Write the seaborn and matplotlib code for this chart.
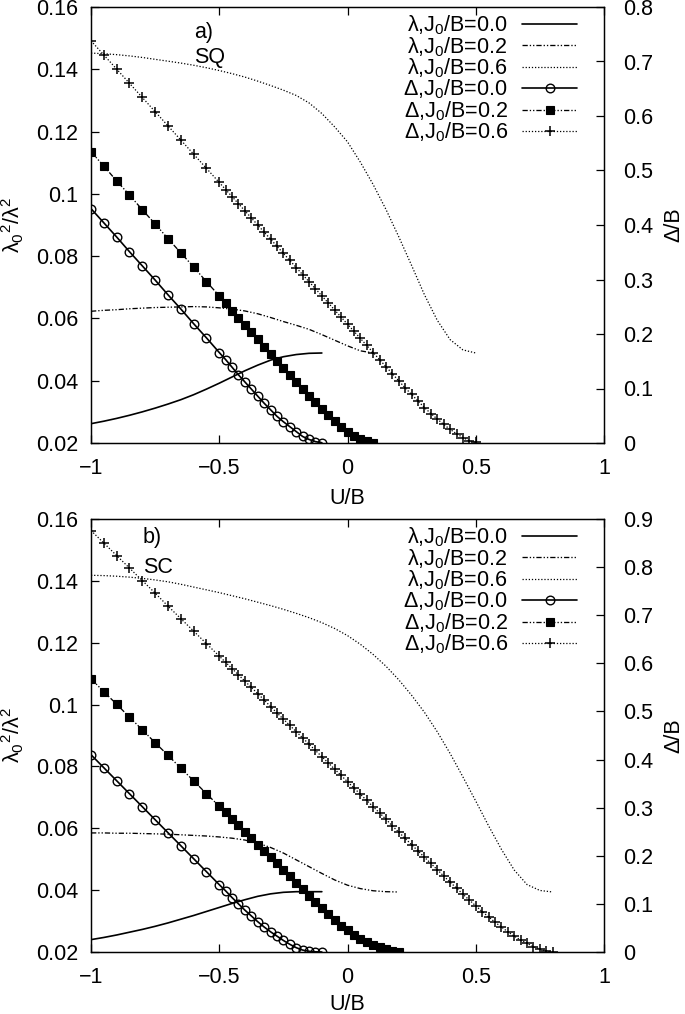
import matplotlib
matplotlib.use("Agg")
import matplotlib.pyplot as plt
import seaborn as sns

# ---------------- data ----------------
# coarse part of the U grid shared by all gap curves
U_C = [-1.0, -0.95, -0.9, -0.85, -0.8, -0.75, -0.7, -0.65, -0.6, -0.55, -0.5]
# fine part of the U grid (gap curves), sliced to each curve's end
U_F = [-0.475, -0.45, -0.425, -0.4, -0.375, -0.35, -0.325, -0.3, -0.275, -0.25,
       -0.225, -0.2, -0.175, -0.15, -0.125, -0.1, -0.075, -0.05, -0.025, 0.0,
       0.025, 0.05, 0.075, 0.1, 0.125, 0.15, 0.175, 0.2, 0.225, 0.25,
       0.275, 0.3, 0.325, 0.35, 0.375, 0.4, 0.425, 0.45, 0.475, 0.5,
       0.525, 0.55, 0.575, 0.6, 0.625, 0.65, 0.675, 0.7, 0.725, 0.75,
       0.775, 0.8]
# U grid for the penetration-depth curves
U_L = [-1.0, -0.95, -0.9, -0.85, -0.8, -0.75, -0.7, -0.65, -0.6, -0.55,
       -0.5, -0.45, -0.4, -0.35, -0.3, -0.25, -0.2, -0.15, -0.1, -0.05,
       0.0, 0.05, 0.1, 0.15, 0.2, 0.25, 0.3, 0.35, 0.4, 0.45,
       0.5, 0.55, 0.6, 0.65, 0.7, 0.75, 0.8]

# ---- panel a) SQ ----
SQ_LAM_00 = [0.0262, 0.0270, 0.0279, 0.0289, 0.0300, 0.0312, 0.0325, 0.0339, 0.0355, 0.0373,
             0.0392, 0.0412, 0.0432, 0.0450, 0.0466, 0.0477, 0.0484, 0.0488, 0.0489]
SQ_LAM_02 = [0.0623, 0.0626, 0.0628, 0.0631, 0.0633, 0.0635, 0.0636, 0.0637, 0.0638, 0.0637,
             0.0634, 0.0630, 0.0624, 0.0615, 0.0603, 0.0590, 0.0578, 0.0565, 0.0548, 0.0530,
             0.0512, 0.0496, 0.0489]
SQ_LAM_06 = [0.1452, 0.1450, 0.1447, 0.1443, 0.1438, 0.1432, 0.1426, 0.1420, 0.1413, 0.1405,
             0.1396, 0.1386, 0.1375, 0.1362, 0.1348, 0.1333, 0.1316, 0.1292, 0.1258, 0.1215,
             0.1167, 0.1102, 0.1030, 0.0950, 0.0862, 0.0770, 0.0676, 0.0594, 0.0532, 0.0499,
             0.0489]
SQ_DEL_00 = [0.430, 0.404, 0.378, 0.351, 0.325, 0.299, 0.272, 0.246, 0.219, 0.193, 0.166,
             0.153, 0.139, 0.125, 0.112, 0.099, 0.086, 0.073, 0.061, 0.049, 0.039,
             0.030, 0.021, 0.012, 0.0065, 0.0025, 0.0005]
SQ_DEL_02 = [0.5345, 0.508, 0.481, 0.455, 0.428, 0.402, 0.375, 0.349, 0.323, 0.296, 0.270,
             0.257, 0.243, 0.230, 0.217, 0.204, 0.190, 0.177, 0.164, 0.151, 0.138,
             0.125, 0.112, 0.099, 0.087, 0.075, 0.063, 0.051, 0.040, 0.030, 0.021,
             0.0135, 0.0075, 0.003, 0.0005]
SQ_DEL_06 = [0.738, 0.712, 0.686, 0.660, 0.634, 0.608, 0.582, 0.556, 0.530, 0.504, 0.478,
             0.465, 0.452, 0.439, 0.426, 0.413, 0.400, 0.387, 0.374, 0.361, 0.348,
             0.335, 0.322, 0.309, 0.296, 0.283, 0.270, 0.257, 0.244, 0.231, 0.218,
             0.205, 0.192, 0.179, 0.166, 0.153, 0.140, 0.127, 0.114, 0.101, 0.089,
             0.077, 0.065, 0.054, 0.044, 0.034, 0.025, 0.017, 0.010, 0.004, 0.001]

# ---- panel b) SC ----
SC_LAM_00 = [0.0240, 0.0247, 0.0255, 0.0264, 0.0273, 0.0283, 0.0294, 0.0306, 0.0318, 0.0331,
             0.0344, 0.0357, 0.0369, 0.0380, 0.0388, 0.0393, 0.0395, 0.0395, 0.0395]
SC_LAM_02 = [0.0585, 0.0585, 0.0584, 0.0584, 0.0583, 0.0582, 0.0581, 0.0579, 0.0577, 0.0575,
             0.0572, 0.0568, 0.0562, 0.0552, 0.0538, 0.0520, 0.0498, 0.0476, 0.0454, 0.0433,
             0.0416, 0.0405, 0.0398, 0.0395, 0.0394]
SC_LAM_06 = [0.1418, 0.1417, 0.1415, 0.1412, 0.1408, 0.1403, 0.1397, 0.1389, 0.1380, 0.1371,
             0.1362, 0.1352, 0.1342, 0.1331, 0.1320, 0.1308, 0.1295, 0.1281, 0.1265, 0.1246,
             0.1223, 0.1195, 0.1162, 0.1124, 0.1080, 0.1030, 0.0975, 0.0912, 0.0842, 0.0766,
             0.0688, 0.0608, 0.0532, 0.0465, 0.0418, 0.0399, 0.0394]
SC_DEL_00 = [0.410, 0.383, 0.356, 0.329, 0.302, 0.275, 0.248, 0.221, 0.194, 0.167, 0.140,
             0.127, 0.113, 0.100, 0.087, 0.075, 0.063, 0.052, 0.042, 0.033, 0.024,
             0.016, 0.009, 0.004, 0.0015, 0.0004, 0.0]
SC_DEL_02 = [0.568, 0.541, 0.515, 0.488, 0.462, 0.435, 0.409, 0.382, 0.356, 0.329, 0.303,
             0.290, 0.276, 0.263, 0.250, 0.237, 0.223, 0.210, 0.197, 0.184, 0.170,
             0.157, 0.144, 0.131, 0.117, 0.104, 0.091, 0.078, 0.066, 0.055, 0.045,
             0.036, 0.028, 0.021, 0.015, 0.010, 0.006, 0.003, 0.001]
SC_DEL_06 = [0.876, 0.850, 0.824, 0.798, 0.772, 0.746, 0.719, 0.693, 0.667, 0.641, 0.615,
             0.602, 0.589, 0.576, 0.563, 0.550, 0.537, 0.524, 0.510, 0.497, 0.484,
             0.471, 0.458, 0.445, 0.432, 0.419, 0.406, 0.393, 0.380, 0.367, 0.354,
             0.341, 0.328, 0.315, 0.302, 0.289, 0.276, 0.262, 0.249, 0.236, 0.223,
             0.210, 0.197, 0.184, 0.171, 0.158, 0.145, 0.133, 0.120, 0.108, 0.096,
             0.084, 0.073, 0.062, 0.052, 0.042, 0.033, 0.025, 0.018, 0.011, 0.006,
             0.002, 0.0005]

LAM_LABELS = ["λ,J$_0$/B=0.0", "λ,J$_0$/B=0.2", "λ,J$_0$/B=0.6"]
DEL_LABELS = ["Δ,J$_0$/B=0.0", "Δ,J$_0$/B=0.2", "Δ,J$_0$/B=0.6"]

X_TICKS = [-1.0, -0.5, 0.0, 0.5, 1.0]
X_TICK_LABELS = ["\u22121", "\u22120.5", "0", "0.5", "1"]
L_TICKS = [0.02, 0.04, 0.06, 0.08, 0.10, 0.12, 0.14, 0.16]
L_TICK_LABELS = ["0.02", "0.04", "0.06", "0.08", "0.1", "0.12", "0.14", "0.16"]
R_TICKS_A = [0.0, 0.1, 0.2, 0.3, 0.4, 0.5, 0.6, 0.7, 0.8]
R_TICK_LABELS_A = ["0", "0.1", "0.2", "0.3", "0.4", "0.5", "0.6", "0.7", "0.8"]
R_TICKS_B = [0.0, 0.1, 0.2, 0.3, 0.4, 0.5, 0.6, 0.7, 0.8, 0.9]
R_TICK_LABELS_B = ["0", "0.1", "0.2", "0.3", "0.4", "0.5", "0.6", "0.7", "0.8", "0.9"]

# ---------------- style ----------------
sns.set_theme(style="ticks")
FS = 15.5
plt.rcParams.update({
    "font.size": FS,
    "mathtext.fontset": "custom",
    "mathtext.rm": "Liberation Sans",
    "mathtext.it": "Liberation Sans:italic",
    "mathtext.bf": "Liberation Sans:bold",
    "axes.linewidth": 0.9,
    "axes.edgecolor": "black",
    "xtick.color": "black",
    "ytick.color": "black",
    "axes.labelcolor": "black",
    "text.color": "black",
})
plt.rcParams["font.family"] = ["Liberation Sans", "DejaVu Sans"]

LS_SOLID = "-"
LS_DDOT = (0, (4, 1.5, 1, 1.5, 1, 1.5))
LS_DOT = (0, (1, 1.5))

fig = plt.figure(figsize=(6.85, 10.14), dpi=100)

W, H = 685.0, 1014.0
AX_L, AX_R = 91.0, 604.0


def rect(top, bottom):
    return [AX_L / W, 1 - bottom / H, (AX_R - AX_L) / W, (bottom - top) / H]


def line(ax, u, v, ls, lw=1.0, **kw):
    sns.lineplot(x=u, y=v, ax=ax, color="black", linestyle=ls, linewidth=lw,
                 sort=False, estimator=None, legend=False, **kw)
    return ax.lines[-1]


def panel(r, lam, dlt, rticks, rlabels, tag, name, tagx, tagy, namey, xlab_y):
    ax = fig.add_axes(r)
    ax2 = ax.twinx()

    h = []
    u0, u2, u6 = lam[0], lam[1], lam[2]
    h.append(line(ax, U_L[:len(u0)], u0, LS_SOLID, lw=1.2))
    h.append(line(ax, U_L[:len(u2)], u2, LS_DDOT, lw=0.95))
    h.append(line(ax, U_L[:len(u6)], u6, LS_DOT, lw=0.9))

    d0, d2, d6 = dlt
    ug = lambda d: U_C + U_F[:len(d) - len(U_C)]
    h.append(line(ax2, ug(d0), d0, LS_SOLID, lw=1.2, marker="o", markersize=6.2,
                  markerfacecolor="none", markeredgecolor="black", markeredgewidth=1.0))
    h.append(line(ax2, ug(d2), d2, LS_DDOT, lw=0.95, marker="s", markersize=5.2,
                  markerfacecolor="black", markeredgecolor="black", markeredgewidth=0.8))
    h.append(line(ax2, ug(d6), d6, LS_DOT, lw=0.9, marker="+", markersize=7.5,
                  markeredgecolor="black", markeredgewidth=1.1))

    ax.set_xlim(-1, 1)
    ax.set_ylim(0.02, 0.16)
    ax2.set_ylim(rticks[0], rticks[-1])
    ax.set_xticks(X_TICKS)
    ax.set_xticklabels(X_TICK_LABELS)
    ax.set_yticks(L_TICKS)
    ax.set_yticklabels(L_TICK_LABELS)
    ax2.set_yticks(rticks)
    ax2.set_yticklabels(rlabels)

    ax.tick_params(axis="both", direction="in", length=6, width=0.9, labelsize=FS)
    ax.tick_params(axis="x", top=True, bottom=True, pad=10.5)
    ax.tick_params(axis="y", left=True, right=False, pad=9.0)
    ax2.tick_params(axis="y", direction="in", length=6, width=0.9, labelsize=FS, pad=13.5)

    ax.set_xlabel("U/B", fontsize=FS)
    ax.xaxis.set_label_coords(0.5, xlab_y)
    ax.set_ylabel("λ$_0$$^2$/λ$^2$", fontsize=FS)
    ax.yaxis.set_label_coords(-0.127, 0.5)
    ax2.set_ylabel("Δ/B", fontsize=FS)
    ax2.yaxis.set_label_coords(1.115, 0.5)

    ax.text(tagx, tagy, tag, transform=ax.transAxes, fontsize=FS, va="baseline", ha="left")
    ax.text(tagx, namey, name, transform=ax.transAxes, fontsize=FS, va="baseline", ha="left")

    leg = ax2.legend(h, LAM_LABELS + DEL_LABELS, loc="upper right",
                     bbox_to_anchor=(0.948, 0.985), frameon=False, markerfirst=False,
                     handlelength=2.58, handletextpad=0.65, labelspacing=-0.1,
                     borderpad=0.0, borderaxespad=0.0, numpoints=1, fontsize=FS)
    for col in leg._legend_handle_box.get_children():
        col.align = "right"
    return ax, ax2


panel(rect(7, 443), [SQ_LAM_00, SQ_LAM_02, SQ_LAM_06],
      [SQ_DEL_00, SQ_DEL_02, SQ_DEL_06], R_TICKS_A, R_TICK_LABELS_A,
      "a)", "SQ", 0.201, 0.928, 0.871, -0.103)
panel(rect(519, 952), [SC_LAM_00, SC_LAM_02, SC_LAM_06],
      [SC_DEL_00, SC_DEL_02, SC_DEL_06], R_TICKS_B, R_TICK_LABELS_B,
      "b)", "SC", 0.101, 0.944, 0.876, -0.097)

fig.savefig("out.png", dpi=100)
